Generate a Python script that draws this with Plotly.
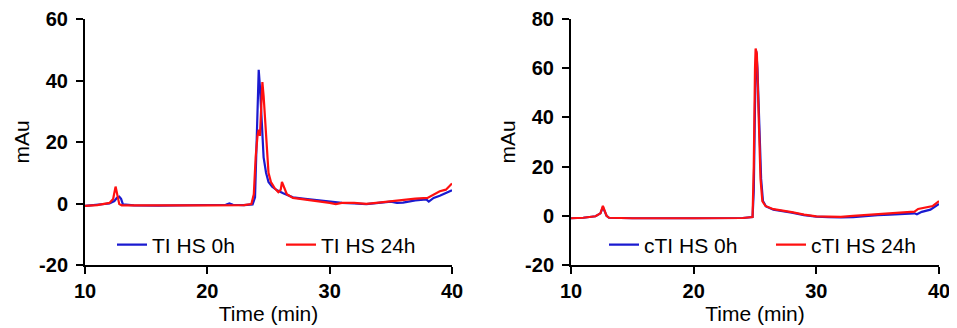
import plotly.graph_objects as go

# ---------------- Data ----------------
# Left panel: TI HS
ti0_x = [10, 11, 12, 12.4, 12.6, 12.8, 12.95, 13.1, 14, 16, 18, 20, 21.5, 21.8, 22.1, 23, 23.7,
         23.9, 24.0, 24.1, 24.2, 24.3, 24.45, 24.6, 24.8, 25.0, 25.3, 25.7, 26.2, 27, 28, 29, 30,
         31, 32, 33, 34, 35, 35.5, 36, 37, 37.9, 38.1, 38.5, 39, 39.5, 40]
ti0_y = [-0.8, -0.5, 0, 0.8, 1.8, 2.2, 1.5, -0.3, -0.6, -0.7, -0.6, -0.5, -0.4, 0, -0.4, -0.5, -0.3,
         2, 15, 35, 43.5, 38, 25, 15, 10, 7, 5.5, 4.3, 3.3, 2, 1.5, 1.0, 0.5,
         0.2, 0, -0.2, 0.2, 0.6, 0.2, 0.3, 1.0, 1.3, 0.6, 1.8, 2.5, 3.3, 4.3]

ti24_x = [10, 11, 12, 12.3, 12.5, 12.65, 12.8, 13, 16, 20, 23, 23.6, 23.8, 23.95, 24.1, 24.2, 24.3,
          24.4, 24.5, 24.6, 24.8, 25.0, 25.2, 25.5, 25.8, 26.0, 26.1, 26.3, 26.5, 27, 28, 29, 30,
          30.5, 31, 32, 33, 34, 35, 36, 37, 38, 38.5, 39, 39.5, 40]
ti24_y = [-0.8, -0.5, 0.2, 1.5, 5.5, 2.5, -0.2, -0.6, -0.7, -0.6, -0.5, -0.2, 3, 15, 22, 24, 22,
          32, 39.5, 35, 22, 10, 7, 5, 3.7, 4.5, 7, 5, 3, 1.8, 1.3, 0.8, 0.2,
          -0.2, 0.2, 0.2, -0.1, 0.3, 0.8, 1.2, 1.6, 1.8, 3, 4, 4.5, 6.5]

# Right panel: cTI HS
cti0_x = [10, 11, 12, 12.4, 12.6, 12.75, 12.9, 13.1, 15, 20, 24, 24.8, 24.9, 25.0, 25.1, 25.2,
          25.35, 25.5, 25.65, 25.9, 26.5, 27.5, 28, 29, 30, 31, 32, 33, 34, 35, 36, 37, 38, 38.2,
          38.6, 39.3, 40]
cti0_y = [-1, -0.8, -0.2, 1, 3.5, 2, 0, -0.8, -1, -1, -0.9, -0.5, 10, 45, 67, 60,
          35, 15, 6, 3.8, 2.5, 1.8, 1.3, 0.3, -0.3, -0.5, -0.7, -0.5, 0, 0.3, 0.5, 0.8, 1, 0.6,
          1.6, 2.5, 4.8]

cti24_x = [10, 11, 12, 12.4, 12.6, 12.75, 12.9, 13.1, 15, 20, 24, 24.8, 24.9, 25.0, 25.05, 25.15,
           25.3, 25.45, 25.6, 25.85, 26.5, 27.5, 28, 29, 30, 31, 32, 33, 34, 35, 36, 37, 38, 38.3,
           39, 39.5, 40]
cti24_y = [-1, -0.8, -0.2, 1, 4, 2, 0, -0.8, -1, -1, -0.9, -0.5, 20, 60, 68, 66,
           40, 15, 6, 4, 2.7, 2, 1.5, 0.5, -0.2, -0.3, -0.4, 0, 0.4, 0.8, 1, 1.5, 1.7, 2.8,
           3.5, 4, 6]

labels = ["TI HS 0h", "TI HS 24h", "cTI HS 0h", "cTI HS 24h"]
x_ticks = [10, 20, 30, 40]
y_ticks_left = [-20, 0, 20, 40, 60]
y_ticks_right = [-20, 0, 20, 40, 60, 80]
y_text_left = ["-20", "0", "20", "40", "60"]
y_text_right = ["-20", "0", "20", "40", "60", "80"]

BLUE = "#1a1ad0"
RED = "#ff1010"
FONT = "Liberation Sans, Arial, sans-serif"

fig = go.Figure()
fig.add_trace(go.Scatter(x=ti0_x, y=ti0_y, mode="lines", name=labels[0],
                         line=dict(color=BLUE, width=2.2), xaxis="x", yaxis="y", legend="legend"))
fig.add_trace(go.Scatter(x=ti24_x, y=ti24_y, mode="lines", name=labels[1],
                         line=dict(color=RED, width=2.2), xaxis="x", yaxis="y", legend="legend"))
fig.add_trace(go.Scatter(x=cti0_x, y=cti0_y, mode="lines", name=labels[2],
                         line=dict(color=BLUE, width=2.2), xaxis="x2", yaxis="y2", legend="legend2"))
fig.add_trace(go.Scatter(x=cti24_x, y=cti24_y, mode="lines", name=labels[3],
                         line=dict(color=RED, width=2.2), xaxis="x2", yaxis="y2", legend="legend2"))

# page body has an 8px margin; figure is sized to fit inside the window
W, H = 949, 320
OFF = 8
ydom = [1 - (265 - OFF) / H, 1 - (19 - OFF) / H]

axis_common = dict(
    showline=True, linecolor="black", linewidth=2,
    ticks="outside", ticklen=7, tickwidth=2, tickcolor="black",
    showgrid=False, zeroline=False, automargin=False,
    tickfont=dict(family=FONT, size=20, color="black", weight="bold"),
)
title_font = dict(family=FONT, size=21, color="black")

fig.update_layout(
    width=W, height=H,
    margin=dict(l=0, r=0, t=0, b=0),
    paper_bgcolor="white", plot_bgcolor="white",
    font=dict(family=FONT, color="black"),
    xaxis=dict(domain=[(85 - OFF) / W, (452 - OFF) / W], range=[10, 40], tickvals=x_ticks,
               anchor="y", title=dict(text="Time (min)", font=title_font, standoff=5),
               **axis_common),
    yaxis=dict(domain=ydom, range=[-20, 60], tickvals=y_ticks_left, ticktext=y_text_left,
               anchor="x", ticklabelstandoff=4,
               title=dict(text="mAu", font=title_font, standoff=4), **axis_common),
    xaxis2=dict(domain=[(571 - OFF) / W, (939 - OFF) / W], range=[10, 40], tickvals=x_ticks,
                anchor="y2", title=dict(text="Time (min)", font=title_font, standoff=5),
                **axis_common),
    yaxis2=dict(domain=ydom, range=[-20, 80], tickvals=y_ticks_right, ticktext=y_text_right,
                anchor="x2", ticklabelstandoff=4,
                title=dict(text="mAu", font=title_font, standoff=4), **axis_common),
    legend=dict(orientation="h", x=104 / W, y=1 - (245 - OFF) / H, xanchor="left", yanchor="middle",
                bgcolor="rgba(0,0,0,0)", font=dict(family=FONT, size=21),
                entrywidth=124, entrywidthmode="pixels", itemwidth=30, tracegroupgap=0),
    legend2=dict(orientation="h", x=596 / W, y=1 - (245 - OFF) / H, xanchor="left", yanchor="middle",
                 bgcolor="rgba(0,0,0,0)", font=dict(family=FONT, size=21),
                 entrywidth=122, entrywidthmode="pixels", itemwidth=30, tracegroupgap=0),
    showlegend=True,
)

fig.write_html("out.html")
